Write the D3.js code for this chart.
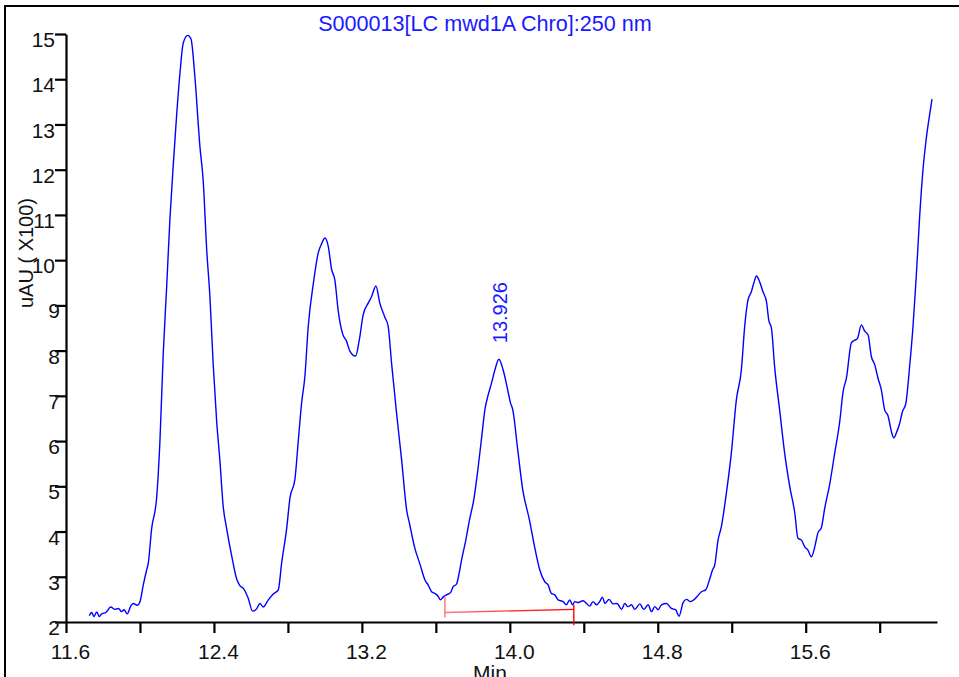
<!DOCTYPE html>
<html>
<head>
<meta charset="utf-8">
<script src="https://cdn.jsdelivr.net/npm/d3@7/dist/d3.min.js"></script>
<style>
  html, body { margin: 0; padding: 0; background: #fff; overflow: hidden; }
  svg { display: block; }
  text { font-family: "Liberation Sans", Arial, sans-serif; }
</style>
</head>
<body>
<svg id="chart" width="959" height="677"></svg>
<script>
// ---- Data ----
const chartTitle = "S000013[LC mwd1A Chro]:250 nm";
const xAxisTitle = "Min";
const yAxisTitle = "uAU ( X100)";

const xTickValues = [11.6, 12.0, 12.4, 12.8, 13.2, 13.6, 14.0, 14.4, 14.8, 15.2, 15.6, 16.0];
const xTickLabels = ["11.6", "", "12.4", "", "13.2", "", "14.0", "", "14.8", "", "15.6", ""];
const yTickValues = [2, 3, 4, 5, 6, 7, 8, 9, 10, 11, 12, 13, 14, 15];

const retentionTimes = [
  11.726,11.739,11.751,11.766,11.780,11.793,11.816,11.842,11.865,11.883,
  11.901,11.914,11.931,11.950,11.964,11.985,12.000,12.018,12.036,12.045,
  12.063,12.090,12.108,12.126,12.144,12.162,12.180,12.198,12.216,12.234,
  12.258,12.276,12.297,12.324,12.342,12.361,12.378,12.396,12.415,12.432,
  12.450,12.469,12.496,12.523,12.541,12.558,12.585,12.609,12.631,12.649,
  12.666,12.694,12.721,12.748,12.766,12.793,12.811,12.838,12.856,12.874,
  12.892,12.910,12.937,12.964,12.982,13.000,13.018,13.036,13.054,13.072,
  13.096,13.117,13.135,13.166,13.185,13.207,13.234,13.252,13.276,13.297,
  13.324,13.342,13.361,13.388,13.415,13.442,13.459,13.486,13.514,13.541,
  13.558,13.577,13.595,13.612,13.625,13.639,13.658,13.679,13.694,13.712,
  13.726,13.739,13.762,13.782,13.805,13.827,13.849,13.865,13.883,13.901,
  13.919,13.941,13.964,13.985,14.004,14.016,14.043,14.070,14.106,14.134,
  14.162,14.189,14.207,14.225,14.243,14.261,14.288,14.306,14.324,14.339,
  14.351,14.369,14.396,14.415,14.432,14.450,14.469,14.486,14.501,14.514,
  14.537,14.558,14.580,14.604,14.622,14.639,14.658,14.676,14.703,14.724,
  14.748,14.766,14.784,14.802,14.820,14.847,14.874,14.897,14.915,14.937,
  14.955,14.977,14.995,15.012,15.036,15.059,15.081,15.096,15.108,15.126,
  15.144,15.171,15.198,15.225,15.252,15.270,15.288,15.306,15.319,15.334,
  15.351,15.369,15.388,15.400,15.415,15.432,15.459,15.486,15.514,15.541,
  15.558,15.577,15.595,15.612,15.631,15.649,15.666,15.685,15.703,15.730,
  15.757,15.784,15.802,15.820,15.847,15.865,15.879,15.901,15.919,15.937,
  15.955,15.973,15.991,16.009,16.027,16.045,16.063,16.076,16.094,16.108,
  16.123,16.141,16.162,16.180,16.198,16.216,16.234,16.252,16.270,16.283
];
const absorbance = [
  2.14,2.21,2.12,2.22,2.12,2.18,2.21,2.33,2.28,2.30,
  2.23,2.27,2.18,2.35,2.41,2.37,2.45,2.82,3.15,3.30,
  4.06,4.74,6.00,7.95,9.38,10.91,12.10,13.19,14.12,14.80,
  14.97,14.89,14.05,12.52,11.75,10.22,9.21,7.70,6.42,5.58,
  4.56,4.06,3.46,2.95,2.80,2.75,2.53,2.24,2.29,2.41,
  2.33,2.49,2.62,2.71,3.30,4.06,4.74,5.16,6.00,6.84,
  7.44,8.54,9.47,10.16,10.36,10.49,10.31,9.80,9.56,8.88,
  8.37,8.21,7.99,7.88,8.21,8.79,9.05,9.19,9.43,9.05,
  8.74,8.54,7.70,6.60,5.58,4.48,4.15,3.64,3.28,2.93,
  2.82,2.67,2.63,2.57,2.49,2.55,2.60,2.65,2.78,2.84,
  3.08,3.37,3.81,4.26,4.70,5.36,6.13,6.69,7.02,7.28,
  7.57,7.81,7.57,7.20,6.84,6.69,5.80,4.92,4.26,3.66,
  3.15,2.89,2.82,2.63,2.60,2.49,2.45,2.38,2.49,2.38,
  2.45,2.43,2.47,2.41,2.35,2.45,2.38,2.45,2.55,2.41,
  2.50,2.40,2.41,2.28,2.41,2.34,2.38,2.28,2.40,2.28,
  2.38,2.23,2.34,2.27,2.38,2.41,2.30,2.27,2.13,2.43,
  2.50,2.45,2.49,2.56,2.67,2.71,2.95,3.15,3.26,3.81,
  4.11,4.85,5.74,6.91,7.57,8.53,9.12,9.30,9.49,9.65,
  9.52,9.30,9.08,8.68,8.49,7.64,6.69,5.74,4.99,4.41,
  3.85,3.81,3.66,3.59,3.44,3.66,3.97,4.09,4.52,5.05,
  5.74,6.43,7.09,7.39,8.17,8.23,8.26,8.57,8.43,8.35,
  7.87,7.69,7.39,7.13,6.69,6.56,6.22,6.07,6.22,6.39,
  6.65,6.82,7.65,8.52,9.65,10.95,11.99,12.69,13.21,13.56
];

// Labelled peak and its integration baseline
const peakLabelText = "13.926";
const peakWindow = [13.8, 14.05];
const baselineTimes = [13.649, 14.346];
const baselineValues = [2.21, 2.28];
const markerLow = [2.10, 1.93];
const markerHigh = [2.55, 2.38];

// ---- Drawing ----
const svg = d3.select("#chart");
const fontSize = 21;

const x = d3.scaleLinear().domain([11.6, 16.31]).range([66, 937]);
const y = d3.scaleLinear().domain([2, 15]).range([622, 34]);

// outer frame (extends past the visible page on right/bottom)
svg.append("rect")
  .attr("x", 5).attr("y", 6).attr("width", 1000).attr("height", 700)
  .attr("fill", "none").attr("stroke", "#000").attr("stroke-width", 2);

// title
svg.append("text")
  .attr("x", 485).attr("y", 30.5)
  .attr("text-anchor", "middle")
  .attr("font-size", 21.6)
  .attr("fill", "#1a1aff")
  .text(chartTitle);

// x axis
const xAxis = svg.append("g")
  .attr("transform", `translate(0,${y(2)})`)
  .call(d3.axisBottom(x)
    .tickValues(xTickValues)
    .tickSize(11)
    .tickSizeOuter(0)
    .tickPadding(11)
    .tickFormat((d, i) => xTickLabels[i]));
xAxis.select(".domain").attr("stroke", "#000").attr("stroke-width", 2.2);
xAxis.selectAll(".tick line").attr("stroke", "#000").attr("stroke-width", 2.2);
xAxis.selectAll(".tick text")
  .attr("font-size", fontSize).attr("font-family", "Liberation Sans, Arial, sans-serif")
  .attr("fill", "#111").attr("dx", 4);

// y axis
const yAxis = svg.append("g")
  .attr("transform", `translate(${x(11.6)},0)`)
  .call(d3.axisLeft(y)
    .tickValues(yTickValues)
    .tickSize(11)
    .tickSizeOuter(0)
    .tickPadding(0)
    .tickFormat(d3.format("d")));
yAxis.select(".domain").attr("stroke", "#000").attr("stroke-width", 2.2);
yAxis.selectAll(".tick line").attr("stroke", "#000").attr("stroke-width", 2.2);
yAxis.selectAll(".tick text")
  .attr("font-size", fontSize).attr("font-family", "Liberation Sans, Arial, sans-serif")
  .attr("fill", "#111")
  .attr("dy", "0.6em")
  .attr("dx", d => d >= 10 ? 0 : 5);

// axis titles (the x title is partly cut by the page edge, as in the reference)
svg.append("text")
  .attr("x", 490).attr("y", 680)
  .attr("text-anchor", "middle")
  .attr("font-size", fontSize)
  .attr("fill", "#111")
  .text(xAxisTitle);

svg.append("text")
  .attr("transform", `translate(33,253) rotate(-90)`)
  .attr("text-anchor", "middle")
  .attr("font-size", 20)
  .attr("fill", "#111")
  .text(yAxisTitle);

// integration baseline (red)
const defs = svg.append("defs");
const grad = defs.append("linearGradient").attr("id", "blGrad")
  .attr("gradientUnits", "userSpaceOnUse")
  .attr("x1", x(baselineTimes[0])).attr("x2", x(baselineTimes[1]))
  .attr("y1", 0).attr("y2", 0);
grad.append("stop").attr("offset", "0%").attr("stop-color", "#ff7a7a");
grad.append("stop").attr("offset", "100%").attr("stop-color", "#ff0000");

svg.append("line")
  .attr("x1", x(baselineTimes[0])).attr("y1", y(baselineValues[0]))
  .attr("x2", x(baselineTimes[1])).attr("y2", y(baselineValues[1]))
  .attr("stroke", "url(#blGrad)").attr("stroke-width", 1.4);
const markerColors = ["#ff7070", "#ff0000"];
baselineTimes.forEach((t, i) => {
  svg.append("line")
    .attr("x1", x(t)).attr("x2", x(t))
    .attr("y1", y(markerLow[i])).attr("y2", y(markerHigh[i]))
    .attr("stroke", markerColors[i]).attr("stroke-width", 1.4);
});

// chromatogram trace
const points = retentionTimes.map((t, i) => ({ t, v: absorbance[i] }));
svg.append("path")
  .datum(points)
  .attr("fill", "none")
  .attr("stroke", "#0000ff")
  .attr("stroke-width", 1.4)
  .attr("stroke-linejoin", "round")
  .attr("d", d3.line().x(d => x(d.t)).y(d => y(d.v)).curve(d3.curveMonotoneX));

// peak label
const peak = d3.greatest(points.filter(p => p.t >= peakWindow[0] && p.t <= peakWindow[1]), p => p.v);
svg.append("text")
  .attr("transform", `translate(${x(peak.t) + 8.5},${y(peak.v) - 16}) rotate(-90)`)
  .attr("font-size", 20)
  .attr("fill", "#1a1aff")
  .text(peakLabelText);
</script>
</body>
</html>
